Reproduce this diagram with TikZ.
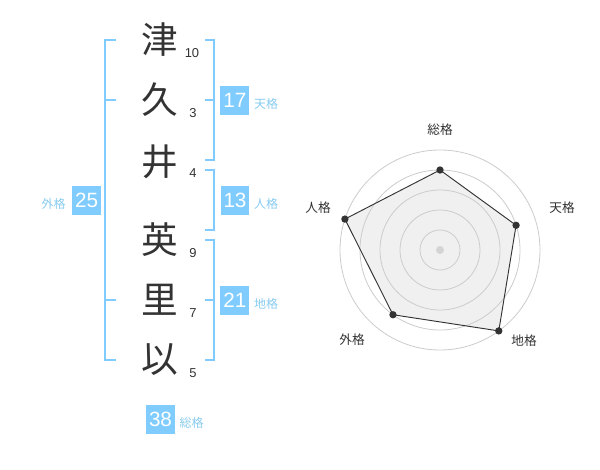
\documentclass[tikz,border=0pt]{standalone}
\usepackage{fontspec}
\usetikzlibrary{calc}
\setmainfont{Liberation Sans}
\newfontfamily\cjk{Noto Sans CJK JP}
\definecolor{bl}{HTML}{80CCFF}
\definecolor{lbl}{HTML}{88CCF0}
\definecolor{ink}{HTML}{333333}
\definecolor{ring}{HTML}{CCCCCC}
\definecolor{area}{HTML}{F0F0F0}
\begin{document}
\begin{tikzpicture}[x=0.75pt,y=-0.75pt,
  kanji/.style={font=\cjk\fontsize{27.5}{27.5}\selectfont, text=ink, inner sep=0pt},
  strokes/.style={font=\fontsize{9.7}{10}\selectfont, text=ink, inner sep=0pt},
  numbox/.style={fill=bl, text=white, minimum width=21.5pt, minimum height=21.5pt, inner sep=0pt, font=\fontsize{15.5}{15.5}\selectfont},
  lab/.style={text=lbl, font=\cjk\fontsize{9}{9}\selectfont, inner sep=0pt},
  brk/.style={draw=bl, line width=1.5pt},
  ringline/.style={draw=ring, line width=0.6pt},
  axlab/.style={text=ink, font=\cjk\fontsize{9.5}{9.5}\selectfont, inner sep=0pt},
  dot/.style={circle, fill=ink, inner sep=0pt, minimum size=5.5pt}]
\useasboundingbox (0,0) rectangle (600,470);
\fill[white] (0,0) rectangle (600,470);

% characters
\node[kanji] (k1) at (160,40) {津};
\node[kanji] (k2) at (160,100) {久};
\node[kanji] (k3) at (160,162) {井};
\node[kanji] (k4) at (160,240) {英};
\node[kanji] (k5) at (160,300) {里};
\node[kanji] (k6) at (160,360) {以};

% stroke counts
\node[strokes] (s1) at (192,53) {10};
\node[strokes] (s2) at (193,113) {3};
\node[strokes] (s3) at (193,173) {4};
\node[strokes] (s4) at (193,253) {9};
\node[strokes] (s5) at (193,313) {7};
\node[strokes] (s6) at (193,373) {5};

% brackets
\draw[brk] (116,40) -- (105,40) -- (105,360) -- (116,360);
\draw[brk] (105,100) -- (116,100);
\draw[brk] (105,300) -- (116,300);
\draw[brk] (205,40) -- (214,40) -- (214,160) -- (205,160);
\draw[brk] (214,100) -- (205,100);
\draw[brk] (205,170) -- (214,170) -- (214,230) -- (205,230);
\draw[brk] (205,240) -- (214,240) -- (214,360) -- (205,360);
\draw[brk] (214,300) -- (205,300);

% boxes and labels
\node[numbox] (b17) at (234.8,100.3) {17};
\node[lab] (l17) at (266,104) {天格};
\node[numbox] (b13) at (235,200.3) {13};
\node[lab] (l13) at (266,204) {人格};
\node[numbox] (b25) at (86.7,200.3) {25};
\node[lab] (l25) at (53.5,203.5) {外格};
\node[numbox] (b21) at (234.8,300.3) {21};
\node[lab] (l21) at (266,304) {地格};
\node[numbox] (b38) at (160.5,419.3) {38};
\node[lab] (l38) at (191.5,422.5) {総格};

% radar chart
\coordinate (c) at (440,250);
\coordinate (pS) at ($(c)+(-90:80)$);
\coordinate (pT) at ($(c)+(-18:80)$);
\coordinate (pC) at ($(c)+(54:100)$);
\coordinate (pG) at ($(c)+(126:80)$);
\coordinate (pJ) at ($(c)+(-162:100)$);
\fill[area] (pS) -- (pT) -- (pC) -- (pG) -- (pJ) -- cycle;
\foreach \r in {20,40,60,80,100} \draw[ringline] (c) circle[radius=\r*0.75pt];
\fill[ring!90!black!60] (c) circle[radius=3pt];
\draw[ink, line width=0.7pt] (pS) -- (pT) -- (pC) -- (pG) -- (pJ) -- cycle;
\foreach \p in {pS,pT,pC,pG,pJ} \node[dot] at (\p) {};

\node[axlab] (aS) at (440,130) {総格};
\node[axlab] (aT) at (562,208) {天格};
\node[axlab] (aC) at (524,341) {地格};
\node[axlab] (aG) at (352,340) {外格};
\node[axlab] (aJ) at (318,208) {人格};
\end{tikzpicture}
\end{document}
